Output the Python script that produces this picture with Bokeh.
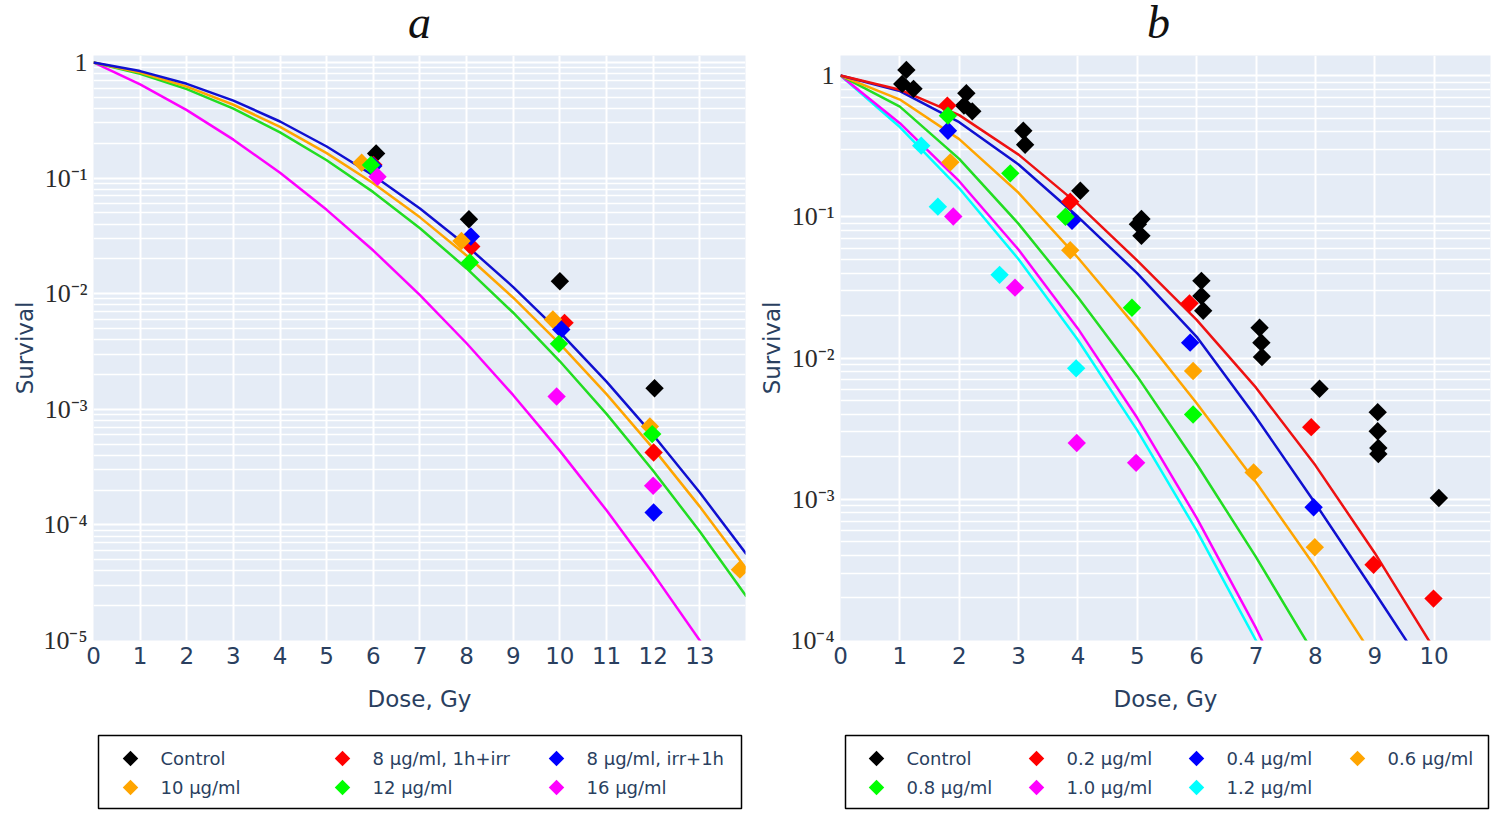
from bokeh.plotting import figure
from bokeh.layouts import row, column
from bokeh.models import FixedTicker, CustomJSTickFormatter, Range1d
from bokeh.core.properties import value
from bokeh.embed import file_html
from bokeh.resources import INLINE

# ---------------- panel a: fitted curves (survival read at whole doses)
a_fit_dose = [0, 1, 2, 3, 4, 5, 6, 7, 8, 9, 10, 11, 12, 13, 14]
a_fit_irr1h = [1.0, 0.8414, 0.6531, 0.4677, 0.3083, 0.1875, 0.1052, 0.05445, 0.0260,
               0.0114, 0.004634, 0.001734, 0.0005984, 0.0001905, 0.0000557]
a_fit_10 = [1.0, 0.8177, 0.6180, 0.4305, 0.2767, 0.1644, 0.09016, 0.04571, 0.02138,
            0.009226, 0.003673, 0.001352, 0.0004592, 0.0001439, 0.0000416]
a_fit_12 = [1.0, 0.7988, 0.5875, 0.3981, 0.2483, 0.1426, 0.07551, 0.03681, 0.01652,
            0.006839, 0.0026, 0.000912, 0.0002944, 0.0000875, 0.000024]
a_fit_16 = [1.0, 0.6457, 0.3864, 0.2148, 0.1109, 0.05309, 0.0236, 0.00973, 0.003724,
            0.001324, 0.0004365, 0.0001337, 0.0000379, 0.00001, 0.00000245]

# panel a: measured points
a_ctrl_x = [6.06, 8.05, 10.0, 12.03]
a_ctrl_y = [0.163, 0.044, 0.0128, 0.00152]
a_1hirr_x = [6.0, 8.1, 10.1, 12.01]
a_1hirr_y = [0.13, 0.0256, 0.00559, 0.000423]
a_irr1h_x = [6.0, 8.09, 10.03, 12.01]
a_irr1h_y = [0.127, 0.0312, 0.0049, 0.000128]
a_10_x = [5.75, 7.89, 9.85, 11.93, 13.86]
a_10_y = [0.1355, 0.0286, 0.00597, 0.00071, 0.000041]
a_12_x = [5.95, 8.07, 9.98, 11.98]
a_12_y = [0.1295, 0.0186, 0.00368, 0.00061]
a_16_x = [6.09, 9.93, 12.0]
a_16_y = [0.1026, 0.00129, 0.000218]

# ---------------- panel b: fitted curves
b_fit_dose = [0, 1, 2, 3, 4, 5, 6, 7, 8, 9, 10]
b_fit_02 = [1.0, 0.7943, 0.5248, 0.2754, 0.1230, 0.04898, 0.01862, 0.006166, 0.001738,
            0.0004169, 0.0000871]
b_fit_04 = [1.0, 0.7762, 0.4677, 0.2344, 0.1, 0.03981, 0.01413, 0.003802, 0.0009333,
            0.0002188, 0.0000501]
b_fit_06 = [1.0, 0.6761, 0.3548, 0.1479, 0.05129, 0.01622, 0.004786, 0.001318, 0.0003311,
            0.0000741]
b_fit_08 = [1.0, 0.6026, 0.2570, 0.08913, 0.02692, 0.007413, 0.001778, 0.000389, 0.0000776]
b_fit_10 = [1.0, 0.4603, 0.1786, 0.05848, 0.01614, 0.003758, 0.0007379, 0.0001222, 0.00001698]
b_fit_12 = [1.0, 0.4319, 0.1592, 0.05006, 0.01343, 0.003073, 0.0005998, 0.0000999, 0.0000142]

# panel b: measured points
b_ctrl_x = [1.11, 1.04, 1.23, 2.12, 2.08, 2.22, 3.08, 3.11, 4.04, 5.07, 5.01, 5.07,
            6.08, 6.08, 6.11, 7.06, 7.09, 7.1, 8.07, 9.05, 9.05, 9.06, 9.06, 10.08]
b_ctrl_y = [1.097, 0.873, 0.805, 0.749, 0.613, 0.558, 0.407, 0.324, 0.153, 0.0964, 0.0887, 0.0733,
            0.0352, 0.0275, 0.0216, 0.0164, 0.01285, 0.01016, 0.00606, 0.00414, 0.00303, 0.00231,
            0.00209, 0.00102]
b_02_x = [1.80, 3.87, 5.88, 7.93, 8.98, 9.99]
b_02_y = [0.613, 0.128, 0.0244, 0.00324, 0.000344, 0.000198]
b_04_x = [1.81, 3.90, 5.89, 7.97]
b_04_y = [0.407, 0.0937, 0.01285, 0.000877]
b_06_x = [1.85, 3.87, 5.94, 6.96, 7.99]
b_06_y = [0.243, 0.058, 0.00809, 0.00155, 0.000457]
b_08_x = [1.81, 2.86, 3.79, 4.91, 5.94]
b_08_y = [0.52, 0.203, 0.1, 0.0227, 0.00398]
b_10_x = [1.90, 2.94, 3.98, 4.98]
b_10_y = [0.1005, 0.0315, 0.0025, 0.00181]
b_12_x = [1.36, 1.64, 2.68, 3.97]
b_12_y = [0.319, 0.118, 0.0388, 0.00845]

a_labels = ["Control", "8 µg/ml, 1h+irr", "8 µg/ml, irr+1h", "10 µg/ml", "12 µg/ml", "16 µg/ml"]
b_labels = ["Control", "0.2 µg/ml", "0.4 µg/ml", "0.6 µg/ml", "0.8 µg/ml", "1.0 µg/ml", "1.2 µg/ml"]

BLACK, RED, BLUE, ORANGE = "#000000", "#ff0000", "#0000ff", "#ffa500"
GREEN, MAGENTA, CYAN = "#00ff00", "#ff00ff", "#00ffff"
LINE_GREEN, LINE_BLUE = "#22dd22", "#1010d0"
TXT = "#2a3f5f"
a_colors = [BLACK, RED, BLUE, ORANGE, GREEN, MAGENTA]
b_colors = [BLACK, RED, BLUE, ORANGE, GREEN, MAGENTA, CYAN]

sup_js = """
const e = Math.round(Math.log10(tick));
if (e == 0) { return "1"; }
const s = {"-": "\u207b", "0": "\u2070", "1": "\u00b9", "2": "\u00b2", "3": "\u00b3",
           "4": "\u2074", "5": "\u2075", "6": "\u2076", "7": "\u2077", "8": "\u2078", "9": "\u2079"};
return "10" + String(e).split("").map(c => s[c]).join("");
"""


def blank_fig(width, height):
    # small helper figure in pixel coordinates, y pointing down
    f = figure(width=width, height=height, x_range=Range1d(0, width), y_range=Range1d(height, 0),
               output_backend="svg", toolbar_location=None, min_border=0, title=None)
    f.axis.visible = False
    f.grid.visible = False
    f.outline_line_color = None
    f.background_fill_color = "white"
    return f


def title_fig(width, letter, cx):
    t = blank_fig(width, 45)
    t.text([cx], [22], text=[letter],
           text_font=value("Liberation Serif"), text_font_style="italic",
           text_font_size="46px", text_color="#111111",
           text_align="center", text_baseline="middle")
    return t


def make_panel(width, right, xmax, xticks, ymin_exp, ytop):
    p = figure(width=width, height=672, y_axis_type="log", title=None,
               x_range=Range1d(0, xmax), y_range=Range1d(10 ** ymin_exp, ytop),
               output_backend="svg", toolbar_location=None,
               min_border_left=93, min_border_right=right,
               min_border_top=10, min_border_bottom=77)
    p.background_fill_color = "#e5ecf6"
    p.outline_line_color = None

    p.xaxis.ticker = FixedTicker(ticks=xticks)
    decades = [10.0 ** e for e in range(ymin_exp, 1)]
    minors = [m * 10.0 ** e for e in range(ymin_exp, 1) for m in range(2, 10)]
    p.yaxis.ticker = FixedTicker(ticks=decades, minor_ticks=minors)
    p.yaxis.formatter = CustomJSTickFormatter(code=sup_js)

    for ax in (p.xaxis, p.yaxis):
        ax.axis_line_color = None
        ax.major_tick_line_color = None
        ax.minor_tick_line_color = None
        ax.axis_label_text_font = "DejaVu Sans"
        ax.axis_label_text_font_style = "normal"
        ax.axis_label_text_font_size = "23px"
        ax.axis_label_text_color = TXT
    p.xaxis.major_label_text_font = "DejaVu Sans"
    p.xaxis.major_label_text_font_size = "23px"
    p.xaxis.major_label_text_color = TXT
    p.xaxis.major_label_standoff = 0
    p.xaxis.axis_label = "Dose, Gy"
    p.xaxis.axis_label_standoff = 19
    p.yaxis.major_label_text_font = "Liberation Serif"
    p.yaxis.major_label_text_font_size = "26px"
    p.yaxis.major_label_text_color = "#2b2b2b"
    p.yaxis.major_label_standoff = 0
    p.yaxis.axis_label = "Survival"
    p.yaxis.axis_label_standoff = 2

    p.xgrid.grid_line_color = "white"
    p.xgrid.grid_line_width = 2
    p.ygrid.grid_line_color = "white"
    p.ygrid.grid_line_width = 2
    p.ygrid.minor_grid_line_color = "white"
    p.ygrid.minor_grid_line_width = 1.3
    return p


def pts(p, x, y, color):
    p.scatter(x, y, marker="square", angle=0.785398, size=13, fill_color=color, line_color=None)


def legend_box(width, labels, colors, col_x, ncols):
    lg = blank_fig(width, 93)
    lg.quad(left=[98], right=[741], top=[18], bottom=[91],
            fill_color="white", line_color="black", line_width=1.5)
    mx = [col_x[i % ncols] for i in range(len(labels))]
    my = [41 + 29 * (i // ncols) for i in range(len(labels))]
    lg.scatter(mx, my, marker="square", angle=0.785398, size=11,
               fill_color=colors, line_color=None)
    lg.text([x + 30 for x in mx], my, text=labels, text_font=value("DejaVu Sans"),
            text_font_size="18px", text_color=TXT, text_baseline="middle")
    return lg


# ---------------- panel a
pa = make_panel(747, 2, 13.98, list(range(0, 14)), -5, 1.148)
pa.line(a_fit_dose, a_fit_16, line_color=MAGENTA, line_width=2.5)
pa.line(a_fit_dose, a_fit_12, line_color=LINE_GREEN, line_width=2.5)
pa.line(a_fit_dose, a_fit_10, line_color=ORANGE, line_width=2.5)
pa.line(a_fit_dose, a_fit_irr1h, line_color=LINE_BLUE, line_width=2.5)
pts(pa, a_ctrl_x, a_ctrl_y, BLACK)
pts(pa, a_1hirr_x, a_1hirr_y, RED)
pts(pa, a_irr1h_x, a_irr1h_y, BLUE)
pts(pa, a_10_x, a_10_y, ORANGE)
pts(pa, a_12_x, a_12_y, GREEN)
pts(pa, a_16_x, a_16_y, MAGENTA)

# ---------------- panel b
pb = make_panel(753, 10, 10.95, list(range(0, 11)), -4, 1.387)
b_curves = [(b_fit_12, CYAN), (b_fit_10, MAGENTA), (b_fit_08, LINE_GREEN),
            (b_fit_06, ORANGE), (b_fit_04, LINE_BLUE), (b_fit_02, "#ee1111")]
for vals, col in b_curves:
    pb.line(b_fit_dose[:len(vals)], vals, line_color=col, line_width=2.5)
pts(pb, b_ctrl_x, b_ctrl_y, BLACK)
pts(pb, b_02_x, b_02_y, RED)
pts(pb, b_04_x, b_04_y, BLUE)
pts(pb, b_06_x, b_06_y, ORANGE)
pts(pb, b_08_x, b_08_y, GREEN)
pts(pb, b_10_x, b_10_y, MAGENTA)
pts(pb, b_12_x, b_12_y, CYAN)

ta = title_fig(747, "a", 419)
tb = title_fig(753, "b", 411)
la = legend_box(747, a_labels, a_colors, [130, 342, 556], 3)
lb = legend_box(753, b_labels, b_colors, [129, 289, 449, 610], 4)

layout = column(row(ta, tb), row(pa, pb), row(la, lb))
open("out.html", "w").write(file_html(layout, INLINE))
